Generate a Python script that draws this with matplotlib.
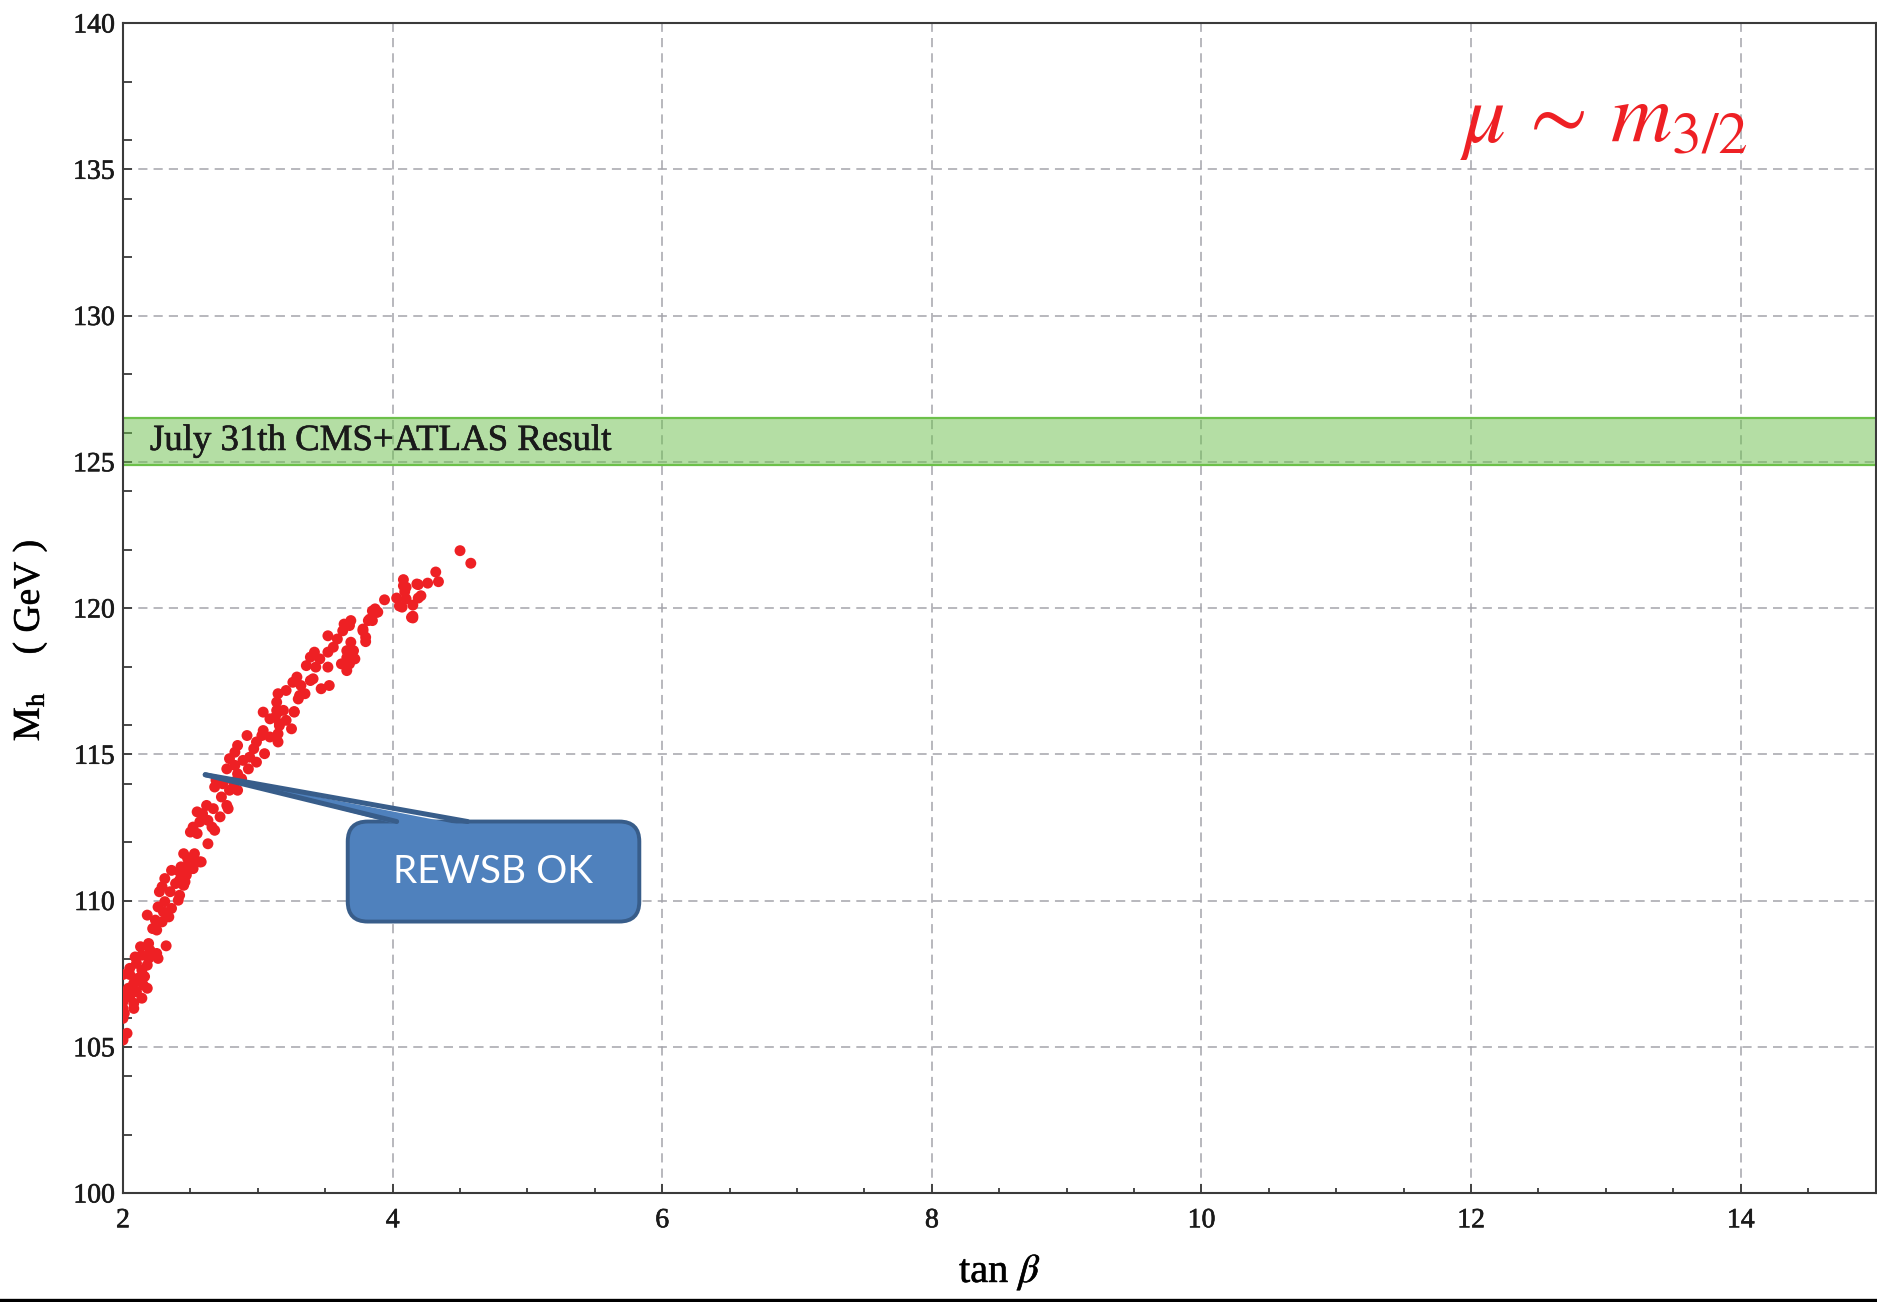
import matplotlib
matplotlib.use('Agg')
import matplotlib.pyplot as plt
import matplotlib.patheffects as pe
from matplotlib.patches import FancyBboxPatch, Polygon
from matplotlib.lines import Line2D
from matplotlib.ticker import MultipleLocator

plt.rcParams['font.family'] = 'Liberation Serif'
plt.rcParams['mathtext.fontset'] = 'stix'

# scan points that pass REWSB: (tan beta, M_h [GeV])
points = [
    (4.50, 121.96), (4.58, 121.53), (4.32, 121.23), (4.34, 120.90), (4.26, 120.85),
    (4.19, 120.80), (4.08, 120.97), (4.08, 120.76), (4.09, 120.56), (4.21, 120.42),
    (4.19, 120.34), (4.03, 120.34), (4.10, 120.31), (4.05, 120.07), (4.07, 120.03),
    (4.15, 120.10), (3.94, 120.28), (3.87, 119.97), (3.85, 119.90), (3.89, 119.86),
    (3.83, 119.62), (4.15, 119.72), (4.15, 119.66), (3.78, 119.28), (3.80, 119.00),
    (4.18, 120.82), (4.10, 120.71), (4.14, 119.68),
    (3.88, 119.85), (3.82, 119.57), (3.85, 119.57), (3.69, 119.57), (3.68, 119.40),
    (3.63, 119.22), (3.78, 119.22), (3.64, 119.45), (3.52, 119.05), (3.59, 118.94),
    (3.69, 118.83), (3.80, 118.85), (3.56, 118.66), (3.66, 118.54), (3.71, 118.54),
    (3.42, 118.49), (3.52, 118.49), (3.39, 118.32), (3.46, 118.26), (3.66, 118.30),
    (3.72, 118.26), (3.62, 118.09), (3.68, 118.09), (3.36, 118.03), (3.43, 117.98),
    (3.52, 117.98), (3.66, 117.86), (3.41, 117.58), (3.29, 117.64), (3.26, 117.46),
    (3.32, 117.35), (3.39, 117.52), (3.53, 117.35), (3.47, 117.24), (3.31, 117.01),
    (3.35, 117.07), (3.15, 117.07), (3.21, 117.18), (3.14, 116.50), (3.19, 116.50),
    (3.13, 116.27), (3.21, 116.16), (3.27, 116.46), (3.16, 115.98), (3.25, 115.87),
    (3.15, 115.70),
    (3.14, 116.78), (3.30, 116.89), (3.04, 116.44), (3.15, 116.44), (3.27, 116.44),
    (3.09, 116.21), (3.16, 116.04), (3.04, 115.81), (3.03, 115.64), (2.92, 115.64),
    (3.09, 115.59), (3.15, 115.42), (2.99, 115.42), (2.85, 115.30), (2.97, 115.19),
    (3.05, 115.02), (2.83, 115.07), (2.94, 114.90), (2.79, 114.85), (2.89, 114.79),
    (2.99, 114.73), (2.83, 114.62), (2.77, 114.50), (2.93, 114.50), (2.85, 114.33),
    (2.88, 114.16), (2.69, 114.11), (2.74, 113.99), (2.82, 114.05), (2.68, 113.88),
    (2.79, 113.77), (2.85, 113.77), (2.73, 113.54), (2.77, 113.25), (2.78, 113.14),
    (2.62, 113.25), (2.67, 113.14), (2.55, 113.03), (2.59, 112.97), (2.72, 112.86),
    (2.57, 112.69), (2.63, 112.74), (2.52, 112.51), (2.66, 112.51), (2.50, 112.34),
    (2.55, 112.29), (2.68, 112.40), (2.63, 111.94), (2.45, 111.60), (2.53, 111.60),
    (2.48, 111.43), (2.57, 111.32), (2.43, 111.15), (2.51, 111.09), (2.47, 110.87),
    (2.42, 110.70), (2.45, 110.52),
    (2.53, 111.38), (2.58, 111.32), (2.47, 111.15), (2.52, 111.09), (2.36, 111.03),
    (2.42, 110.98), (2.31, 110.75), (2.46, 110.64), (2.39, 110.58), (2.29, 110.47),
    (2.27, 110.30), (2.35, 110.30), (2.42, 110.18), (2.41, 110.01), (2.31, 109.96),
    (2.26, 109.78), (2.36, 109.73), (2.30, 109.61), (2.34, 109.44), (2.18, 109.50),
    (2.24, 109.33), (2.29, 109.27), (2.22, 109.04), (2.25, 108.99), (2.19, 108.53),
    (2.13, 108.42), (2.32, 108.45), (2.20, 108.30), (2.25, 108.19), (2.14, 108.13),
    (2.09, 108.07), (2.19, 108.02), (2.26, 108.02), (2.10, 107.85), (2.18, 107.79),
    (2.05, 107.68), (2.14, 107.62), (2.00, 107.47), (2.05, 107.47), (2.16, 107.40),
    (2.11, 107.34), (2.08, 107.17), (2.15, 107.11), (2.18, 107.00), (2.04, 107.00),
    (2.10, 106.88), (2.00, 106.83), (2.05, 106.71), (2.14, 106.66), (2.00, 106.54),
    (2.08, 106.49), (2.00, 106.31), (2.08, 106.31), (2.01, 106.14), (2.00, 105.97),
    (2.03, 105.46), (2.00, 105.23),
]
tan_beta = [p[0] for p in points]
m_higgs = [p[1] for p in points]

# LHC band
band_low, band_high = 124.9, 126.5
band_label = 'July 31th CMS+ATLAS Result'

fig = plt.figure(figsize=(18.77, 13.02), dpi=100)
ax = fig.add_axes([123 / 1877, 1 - 1193 / 1302, 1752.5 / 1877, 1170 / 1302])

ax.set_xlim(2, 15)
ax.set_ylim(100, 140)
ax.xaxis.set_major_locator(MultipleLocator(2))
ax.xaxis.set_minor_locator(MultipleLocator(0.5))
ax.yaxis.set_major_locator(MultipleLocator(5))
ax.yaxis.set_minor_locator(MultipleLocator(2))

ax.grid(True, which='major', color='#a4a4ab', lw=1.1, ls=(0, (6, 4)), zorder=0)
ax.set_axisbelow(True)

for s in ax.spines.values():
    s.set_color('#3a3a3a')
    s.set_linewidth(1.5)
ax.tick_params(which='both', direction='in', top=False, right=False,
               labelsize=20, color='#3a3a3a', width=1.3, labelcolor='#1a1a1a')
ax.tick_params(axis='x', which='major', length=6.5, pad=11)
ax.tick_params(axis='x', which='minor', length=3.6)
ax.tick_params(axis='y', which='both', length=6.5, pad=6)

# slightly heavier serif strokes
heavy = [pe.withStroke(linewidth=0.45, foreground='#1a1a1a')]
for lab in ax.get_xticklabels() + ax.get_yticklabels():
    lab.set_path_effects(heavy)

ax.axhspan(band_low, band_high, facecolor='#6abf4b', alpha=0.5,
           edgecolor='none', zorder=1)
for yv in (band_low, band_high):
    ax.axhline(yv, color='#6cc04a', lw=1.6, zorder=1.5)
ax.text(2.2, 125.72, band_label, fontsize=26.5, va='center', ha='left',
        color='#1a1a1a', zorder=2, path_effects=heavy)

ax.scatter(tan_beta, m_higgs, s=62, color='#ee2024', edgecolors='none', zorder=3)

ax.text(11.92, 135.94, r'$\mu\,\sim\,m_{3/2}$', fontsize=61, color='#ee2024',
        ha='left', va='baseline', zorder=4)

# callout box with wedge pointer
box_x0, box_x1 = 3.667, 5.83
box_y0, box_y1 = 109.28, 112.70
tip = (2.61, 114.3)
base_l, base_r = 4.03, 4.556
face, edge = '#4f81bd', '#385d8a'
r_x = 20 / 135.0
aspect = (20 / 29.25) / r_x
box = FancyBboxPatch((box_x0, box_y0), box_x1 - box_x0, box_y1 - box_y0,
                     boxstyle='round,pad=0,rounding_size=%f' % r_x,
                     mutation_aspect=aspect, facecolor=face, edgecolor=edge,
                     lw=2.8, zorder=5)
ax.add_patch(box)
wedge = Polygon([tip, (base_l + 0.03, box_y1 - 0.13), (base_r - 0.03, box_y1 - 0.13)],
                closed=True, facecolor=face, edgecolor='none', zorder=6)
ax.add_patch(wedge)
for bx in (base_l, base_r):
    ax.plot([tip[0], bx], [tip[1], box_y1], color=edge, lw=3.6,
            solid_capstyle='round', zorder=6)
ax.text((box_x0 + box_x1) / 2, (box_y0 + box_y1) / 2, 'REWSB OK', fontsize=28,
        family='Lato', color='white', ha='center', va='center', zorder=7)

fig.text(1000 / 1877, 1 - 1272 / 1302, r'tan $\beta$', fontsize=29,
         ha='center', va='center', path_effects=heavy)
fig.text(30 / 1877, 1 - 640 / 1302, r'$\mathrm{M_h}$    ( GeV )', fontsize=27,
         rotation=90, ha='center', va='center', path_effects=heavy)

fig.add_artist(Line2D([0, 1], [1.8 / 1302, 1.8 / 1302], color='black', lw=2.4,
                      transform=fig.transFigure))

fig.savefig('out.png', dpi=100)
